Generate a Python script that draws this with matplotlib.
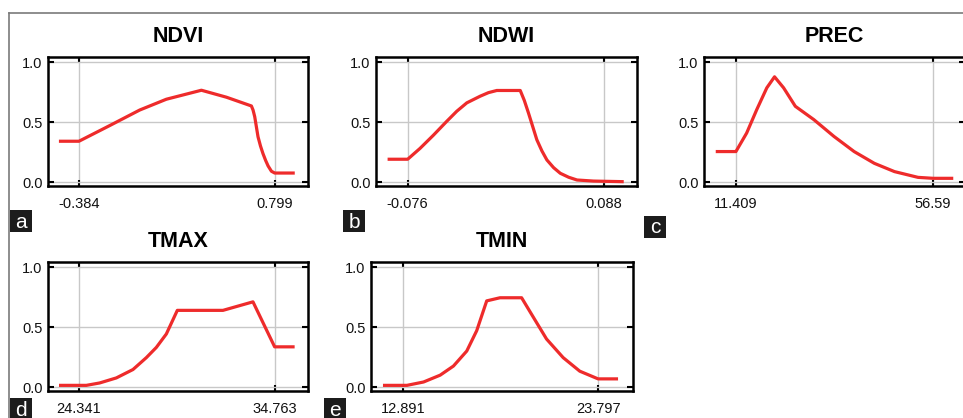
import matplotlib
matplotlib.use("Agg")
import matplotlib.pyplot as plt
from matplotlib.patches import Rectangle
from matplotlib.lines import Line2D

plt.rcParams['font.family'] = ['Liberation Sans', 'DejaVu Sans']

W, H = 963, 418

# response curves
ndvi_x = [-0.505, -0.384, -0.199, -0.017, 0.144, 0.356, 0.507, 0.658, 0.668, 0.678, 0.698, 0.713, 0.728, 0.744, 0.759, 0.779, 0.799, 0.920]
ndvi_y = [0.34, 0.34, 0.47, 0.60, 0.69, 0.765, 0.707, 0.634, 0.60, 0.545, 0.377, 0.30, 0.237, 0.18, 0.134, 0.09, 0.075, 0.075]

ndwi_x = [-0.0928, -0.076, -0.0657, -0.0545, -0.0433, -0.0349, -0.0265, -0.0154, -0.0084, -0.0014, 0.0182, 0.0216, 0.0251, 0.0321, 0.0363, 0.0405, 0.0461, 0.0517, 0.0587, 0.0657, 0.0796, 0.1048]
ndwi_y = [0.19, 0.19, 0.28, 0.39, 0.506, 0.59, 0.66, 0.715, 0.745, 0.763, 0.763, 0.68, 0.575, 0.352, 0.26, 0.184, 0.12, 0.073, 0.04, 0.017, 0.008, 0.003]

prec_x = [6.79, 11.41, 13.87, 16.18, 18.49, 20.26, 22.34, 25.03, 29.27, 33.88, 38.50, 43.12, 47.74, 53.13, 56.59, 61.21]
prec_y = [0.254, 0.254, 0.408, 0.603, 0.785, 0.877, 0.785, 0.631, 0.52, 0.38, 0.254, 0.156, 0.087, 0.039, 0.031, 0.031]

tmax_x = [23.276, 24.732, 25.442, 26.330, 27.217, 27.928, 28.460, 28.993, 29.579, 32.011, 33.609, 34.763, 35.828]
tmax_y = [0.014, 0.014, 0.034, 0.076, 0.146, 0.245, 0.33, 0.442, 0.639, 0.639, 0.71, 0.335, 0.335]

tmin_x = [11.776, 13.114, 14.043, 14.972, 15.715, 16.458, 17.015, 17.573, 18.316, 19.524, 20.174, 20.917, 21.846, 22.775, 23.797, 24.912]
tmin_y = [0.014, 0.014, 0.042, 0.099, 0.175, 0.30, 0.47, 0.718, 0.744, 0.744, 0.583, 0.40, 0.245, 0.132, 0.068, 0.068]

titles = ["NDVI", "NDWI", "PREC", "TMAX", "TMIN"]
xs = [ndvi_x, ndwi_x, prec_x, tmax_x, tmin_x]
ys = [ndvi_y, ndwi_y, prec_y, tmax_y, tmin_y]
tick_vals = [[-0.384, 0.799], [-0.076, 0.088], [11.409, 56.59], [24.341, 34.763], [12.891, 23.797]]
tick_labels = [["-0.384", "0.799"], ["-0.076", "0.088"], ["11.409", "56.59"], ["24.341", "34.763"], ["12.891", "23.797"]]
letters = ["a", "b", "c", "d", "e"]

# layout (pixels): axes box left, top, right, bottom and x limits
boxes = [(48, 57, 308, 186), (376, 57, 637, 186), (704, 57, 965, 186),
         (48, 262, 308, 391), (371, 262, 633, 391)]
xlims = [(-0.571, 1.0), (-0.1025, 0.1159), (4.10, 63.9), (22.69, 36.54), (11.107, 25.748)]
letter_boxes = [(10, 210), (343, 210), (644, 216), (10, 398), (324, 398)]

fig = plt.figure(figsize=(W / 100, H / 100), dpi=100)

for i in range(5):
    l, t, r, b = boxes[i]
    ax = fig.add_axes([l / W, 1 - b / H, (r - l) / W, (b - t) / H])
    ax.plot(xs[i], ys[i], color='#ee2b2b', lw=2.3, solid_joinstyle='round',
            solid_capstyle='butt', zorder=3)
    ax.set_xlim(*xlims[i])
    ax.set_ylim(-0.033, 1.042)
    ax.set_xticks(tick_vals[i])
    ax.set_xticklabels(tick_labels[i])
    ax.set_yticks([0.0, 0.5, 1.0])
    ax.set_yticklabels(["0.0", "0.5", "1.0"])
    ax.grid(True, color='#c8c8c8', lw=1.0)
    ax.tick_params(direction='in', length=4, width=1.5, color='black',
                   top=True, right=True, labelsize=10.5, labelcolor='#111111')
    ax.tick_params(axis='x', pad=8)
    ax.tick_params(axis='y', pad=4)
    for s in ax.spines.values():
        s.set_linewidth(1.8)
        s.set_color('black')
    ax.set_title(titles[i], fontsize=15.5, fontweight='bold', pad=11)

    lx, ly = letter_boxes[i]
    fig.add_artist(Rectangle((lx / W, 1 - (ly + 22) / H), 22 / W, 22 / H,
                             transform=fig.transFigure, facecolor='#1c1c1c',
                             edgecolor='none'))
    fig.text((lx + 11) / W, 1 - (ly + 12) / H, letters[i], color='white',
             fontsize=15, ha='center', va='center')

# frame lines of the figure
fig.add_artist(Line2D([9 / W, 1], [1 - 13 / H, 1 - 13 / H], transform=fig.transFigure,
                      color='#7a7a7a', lw=1.2))
fig.add_artist(Line2D([9 / W, 9 / W], [0, 1 - 13 / H], transform=fig.transFigure,
                      color='#7a7a7a', lw=1.2))

fig.savefig("out.png", dpi=100)
